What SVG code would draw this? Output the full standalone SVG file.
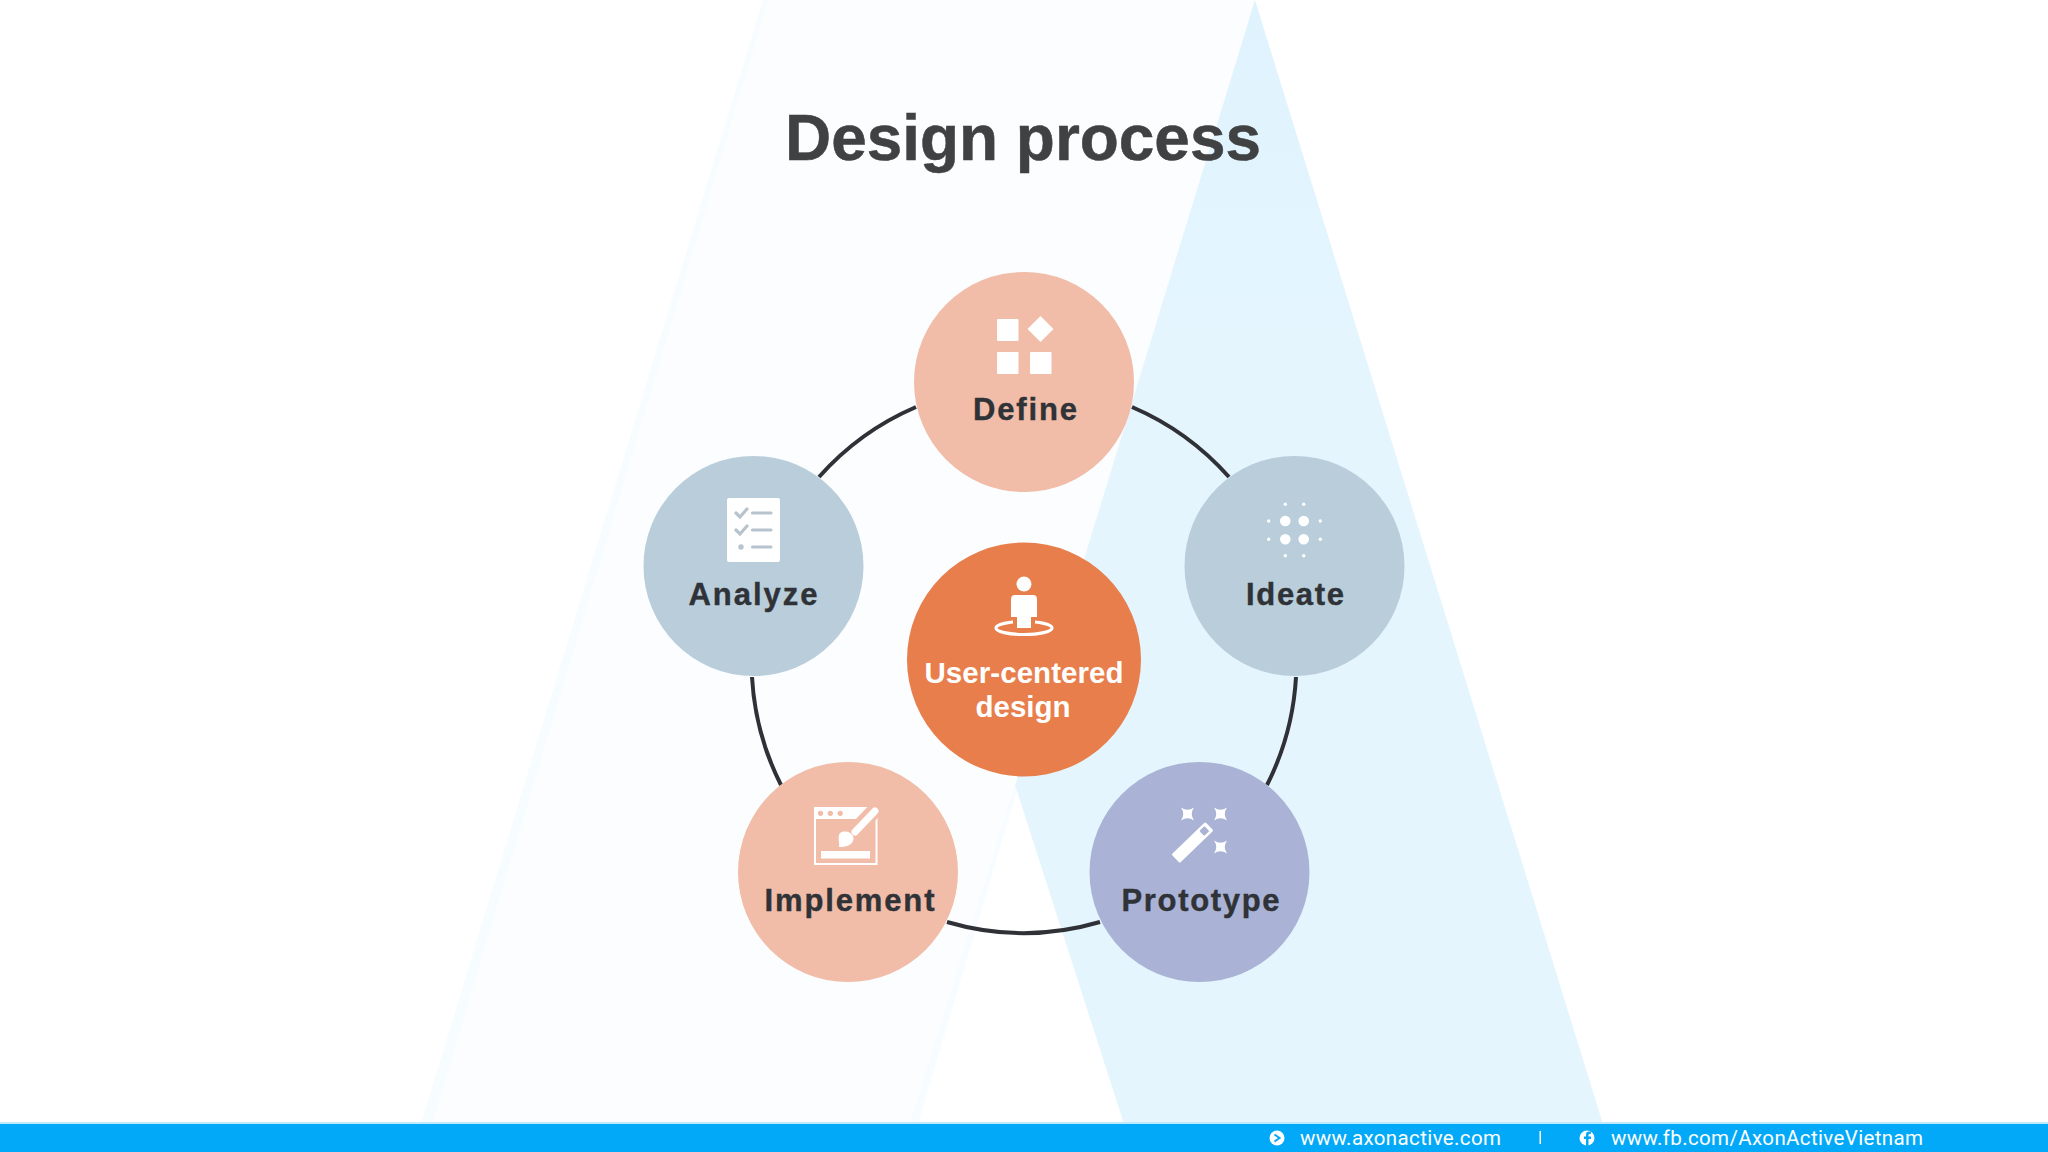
<svg xmlns="http://www.w3.org/2000/svg" width="2048" height="1152" viewBox="0 0 2048 1152">
<style>
.lbl{font-family:"Liberation Sans",Arial,sans-serif;font-weight:700;font-size:31px;fill:#2f3236;stroke:#2f3236;stroke-width:.4;text-anchor:middle}
.ctr{font-family:"Liberation Sans",Arial,sans-serif;font-weight:700;font-size:29.5px;fill:#fff;text-anchor:middle}
.foot{font-family:Roboto,"Liberation Sans",sans-serif;font-size:20.5px;fill:#fff}
.conn{fill:none;stroke:#2f3136;stroke-width:4}
.w{fill:#fff}
</style>
<defs>
<path id="star" d="M-6.500-6.500Q0-2 6.500-6.500Q2 0 6.500 6.500Q0 2-6.500 6.500Q-2 0-6.500-6.500Z" fill="#fff"/>
<linearGradient id="peak" x1="0" y1="0" x2="0" y2="1"><stop offset="0" stop-color="#dff3fe"/><stop offset=".3" stop-color="#e4f5fe"/></linearGradient>
</defs>
<rect width="2048" height="1152" fill="#fff"/>
<g id="background">
<polygon points="767,0 1255,0 1015,785 910,1124 421,1124" fill="#fbfdff"/>
<polygon points="763,0 768,0 432,1124 421,1124" fill="#f7fcff"/>
<polygon points="1015,785 1017,790 918,1124 910,1124" fill="#f6fcff"/>
<polygon points="1255,0 1603,1124 1124,1124 1015,785" fill="url(#peak)"/>
<rect y="1122" width="2048" height="2" fill="#bfe9fd"/>
<rect y="1124" width="2048" height="28" fill="#03a9f9"/>
</g>
<text x="1023" y="160" font-family="'Liberation Sans',Arial,sans-serif" font-weight="700" font-size="64px" fill="#404143" stroke="#404143" stroke-width=".5" text-anchor="middle" textLength="476" lengthAdjust="spacingAndGlyphs">Design process</text>
<g id="connectors">
<path class="conn" d="M916 407A274 274 0 0 0 819 477"/>
<path class="conn" d="M1132 407A274 274 0 0 1 1229 477"/>
<path class="conn" d="M1296 677A273 273 0 0 1 1267 785"/>
<path class="conn" d="M1100 922A273 273 0 0 1 947 922"/>
<path class="conn" d="M781 785A273 273 0 0 1 752 677"/>
</g>
<g id="node-define">
<circle cx="1024" cy="382" r="110" fill="#f1bca8"/>
<rect class="w" x="997" y="319" width="21.500" height="22" rx="1"/>
<rect class="w" x="997" y="352" width="21.500" height="22" rx="1"/>
<rect class="w" x="1030" y="352" width="21.500" height="22" rx="1"/>
<polygon class="w" points="1040.500,316 1053.500,329 1040.500,342 1027.500,329"/>
<text class="lbl" x="1025" y="420" textLength="104" lengthAdjust="spacing">Define</text>
</g>
<g id="node-analyze">
<circle cx="753.500" cy="566" r="110" fill="#b9ceda"/>
<rect class="w" x="727" y="498" width="53" height="64" rx="2"/>
<g fill="none" stroke="#b7c4cd" stroke-width="3.200" stroke-linecap="round">
<path d="M752.500 513H771M752.500 530H771M752.500 547H771"/>
<path d="M736 513L740 517L747 509M736 530L740 534L747 526"/>
</g>
<circle cx="741" cy="547" r="2.700" fill="#b7c4cd"/>
<text class="lbl" x="753" y="605" textLength="129" lengthAdjust="spacing">Analyze</text>
</g>
<g id="node-ideate">
<circle cx="1294.500" cy="566" r="110" fill="#b9ceda"/>
<g class="w">
<circle cx="1285.300" cy="521" r="5.300"/><circle cx="1303.700" cy="521" r="5.300"/>
<circle cx="1285.300" cy="539.300" r="5.300"/><circle cx="1303.700" cy="539.300" r="5.300"/>
<circle cx="1285.300" cy="504.300" r="1.700"/><circle cx="1303.700" cy="504.300" r="1.700"/>
<circle cx="1285.300" cy="555.700" r="1.700"/><circle cx="1303.700" cy="555.700" r="1.700"/>
<circle cx="1268.700" cy="521" r="1.700"/><circle cx="1320.300" cy="521" r="1.700"/>
<circle cx="1268.700" cy="539.300" r="1.700"/><circle cx="1320.300" cy="539.300" r="1.700"/>
</g>
<text class="lbl" x="1295" y="605" textLength="98" lengthAdjust="spacing">Ideate</text>
</g>
<g id="node-prototype">
<circle cx="1199.500" cy="872" r="110" fill="#aab3d5"/>
<use href="#star" x="1187.500" y="814"/><use href="#star" x="1220.500" y="814"/><use href="#star" x="1220.500" y="847"/>
<g transform="translate(1192.500 842.500) rotate(-44)">
<rect class="w" x="-23.500" y="-6" width="47" height="12" rx="1.500"/>
<rect x="13" y="-3.500" width="7" height="7" rx="1" fill="#aab3d5"/>
</g>
<text class="lbl" x="1200.500" y="911" textLength="158" lengthAdjust="spacing">Prototype</text>
</g>
<g id="node-implement">
<circle cx="848" cy="872" r="110" fill="#f1bca8"/>
<rect x="815" y="808" width="61.500" height="56" fill="none" stroke="#fff" stroke-width="2"/>
<rect class="w" x="814" y="807" width="63.500" height="12"/>
<g fill="#f1bca8"><circle cx="820.500" cy="813.300" r="2.600"/><circle cx="830.300" cy="813.300" r="2.600"/><circle cx="840.200" cy="813.300" r="2.600"/></g>
<rect class="w" x="821" y="851" width="49" height="7.500"/>
<path d="M852 834L875 810" stroke="#f1bca8" stroke-width="15" stroke-linecap="round" fill="none"/>
<path d="M855 832L875 811" stroke="#fff" stroke-width="7" stroke-linecap="round" fill="none"/>
<path class="w" d="M840 833C845 830 851 832 853 836C855 841 851 845 847 846C844 847 841 847 839 847C840 843 837 838 840 833Z"/>
<text class="lbl" x="849.500" y="911" textLength="170" lengthAdjust="spacing">Implement</text>
</g>
<g id="node-center">
<circle cx="1024" cy="659.500" r="117" fill="#e87e4b"/>
<ellipse cx="1024" cy="628" rx="28" ry="6.500" fill="none" stroke="#fff" stroke-width="3.200"/>
<path fill="#e87e4b" d="M1013 612H1035V626H1013Z"/>
<circle class="w" cx="1024" cy="584" r="7.500"/>
<path class="w" d="M1015 595H1033Q1037 595 1037 599V617H1031V628H1017V617H1011V599Q1011 595 1015 595Z"/>
<text class="ctr" x="1024" y="682.500" textLength="199" lengthAdjust="spacing">User-centered</text>
<text class="ctr" x="1023" y="717" textLength="95" lengthAdjust="spacing">design</text>
</g>
<g id="footer">
<circle class="w" cx="1277" cy="1138" r="7.500"/>
<path d="M1274.500 1134.500L1279.500 1138L1274.500 1141.500" fill="none" stroke="#03a9f9" stroke-width="2"/>
<text class="foot" x="1300" y="1145" textLength="201">www.axonactive.com</text>
<rect class="w" x="1539.500" y="1131" width="1.500" height="13"/>
<circle class="w" cx="1587" cy="1138" r="7.500"/>
<path d="M1588.500 1146V1139H1591V1136.500H1588.500V1135Q1588.500 1133.800 1590 1133.800H1591V1131.500H1589Q1586 1131.500 1586 1134.500V1136.500H1584V1139H1586V1146Z" fill="#03a9f9"/>
<text class="foot" x="1611" y="1145" textLength="312">www.fb.com/AxonActiveVietnam</text>
</g>
</svg>
